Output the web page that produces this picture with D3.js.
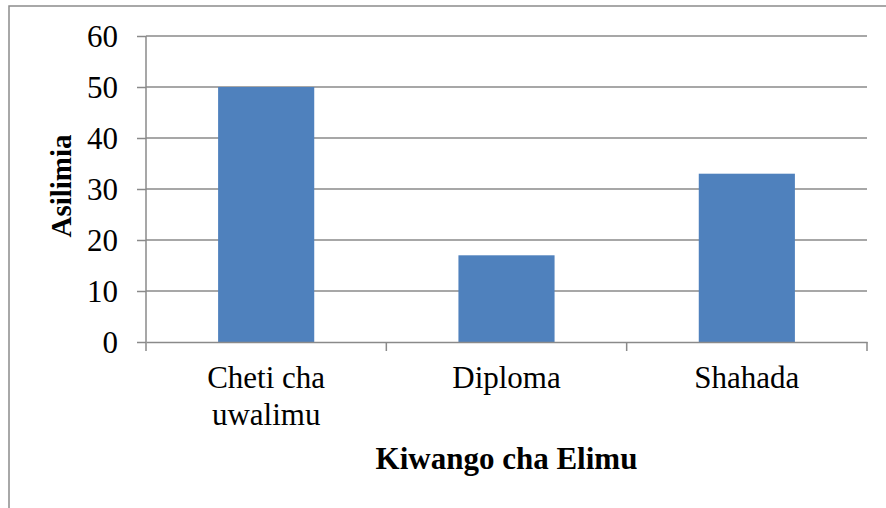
<!DOCTYPE html>
<html>
<head>
<meta charset="utf-8">
<script src="https://cdn.jsdelivr.net/npm/d3@7"></script>
<style>
  body { margin: 0; background: #fff; }
  svg { display: block; font-family: "Liberation Serif", "Times New Roman", serif; }
</style>
</head>
<body>
<div id="chart"></div>
<script>
// data
var categories = [["Cheti cha", "uwalimu"], ["Diploma"], ["Shahada"]];
var values = [50, 17, 33];
var yTicks = [0, 10, 20, 30, 40, 50, 60];
var xTitle = "Kiwango cha Elimu";
var yTitle = "Asilimia";

var width = 886, height = 508;
var plotLeft = 146, plotRight = 867, plotTop = 36, plotBottom = 342;
var gridColor = "#8a8a8a";

var svg = d3.select("#chart").append("svg")
  .attr("width", width)
  .attr("height", height);

// outer frame (only left and top edges visible)
svg.append("rect")
  .attr("x", 9).attr("y", 6)
  .attr("width", width).attr("height", height)
  .style("fill", "none")
  .style("stroke", "#8c8c8c")
  .style("stroke-width", 1.5);

var keys = categories.map(function(d){ return d.join(" "); });

var x = d3.scaleBand()
  .domain(keys)
  .range([plotLeft, plotRight])
  .paddingInner(0.6)
  .paddingOuter(0.3);

var y = d3.scaleLinear()
  .domain([0, 60])
  .range([plotBottom, plotTop]);

// gridlines
svg.append("g")
  .selectAll("line")
  .data(yTicks.filter(function(t){ return t > 0; }))
  .enter().append("line")
  .attr("x1", plotLeft).attr("x2", plotRight)
  .attr("y1", function(d){ return y(d); })
  .attr("y2", function(d){ return y(d); })
  .style("stroke", gridColor)
  .style("stroke-width", 1.5);

// bars
svg.append("g")
  .selectAll("rect")
  .data(values)
  .enter().append("rect")
  .attr("x", function(d, i){ return x(keys[i]); })
  .attr("y", function(d){ return y(d); })
  .attr("width", x.bandwidth())
  .attr("height", function(d){ return y(0) - y(d); })
  .style("fill", "#4f81bd");

// y axis
var yAxis = svg.append("g")
  .attr("transform", "translate(" + plotLeft + ",0)")
  .call(d3.axisLeft(y).tickValues(yTicks).tickSize(9).tickPadding(19));

// x axis with ticks at the band edges
var xAxis = svg.append("g")
  .attr("transform", "translate(0," + plotBottom + ")")
  .call(d3.axisBottom(x).tickSize(0).tickFormat(""));

var edges = keys.map(function(k){ return x(k) - x.step() * x.paddingInner() / 2; });
edges[0] = plotLeft;
edges.push(plotRight);
xAxis.selectAll(".edge")
  .data(edges)
  .enter().append("line")
  .attr("class", "edge")
  .attr("x1", function(d){ return d; })
  .attr("x2", function(d){ return d; })
  .attr("y1", 0).attr("y2", 9);

[yAxis, xAxis].forEach(function(ax){
  ax.select(".domain").style("stroke", gridColor).style("stroke-width", 1.5);
  ax.selectAll("line").style("stroke", gridColor).style("stroke-width", 1.5);
  ax.selectAll("text")
    .style("font-family", "Liberation Serif, serif")
    .style("font-size", "31px")
    .style("fill", "#000");
});
yAxis.select(".domain").attr("d", "M0," + plotTop + "V" + plotBottom);
yAxis.selectAll(".tick text").attr("dy", "0.34em");

// category labels
svg.append("g")
  .selectAll("text")
  .data(categories)
  .enter().append("text")
  .attr("x", function(d, i){ return x(keys[i]) + x.bandwidth() / 2; })
  .attr("y", 388)
  .attr("text-anchor", "middle")
  .style("font-size", "31px")
  .each(function(d){
    var t = d3.select(this);
    d.forEach(function(line, j){
      t.append("tspan")
        .attr("x", t.attr("x"))
        .attr("dy", j === 0 ? 0 : 37)
        .text(line);
    });
  });

// axis titles
svg.append("text")
  .attr("x", (plotLeft + plotRight) / 2)
  .attr("y", 469)
  .attr("text-anchor", "middle")
  .style("font-size", "31px")
  .style("font-weight", "bold")
  .text(xTitle);

svg.append("text")
  .attr("transform", "translate(71,186) rotate(-90)")
  .attr("text-anchor", "middle")
  .style("font-size", "29px")
  .style("font-weight", "bold")
  .text(yTitle);
</script>
</body>
</html>
